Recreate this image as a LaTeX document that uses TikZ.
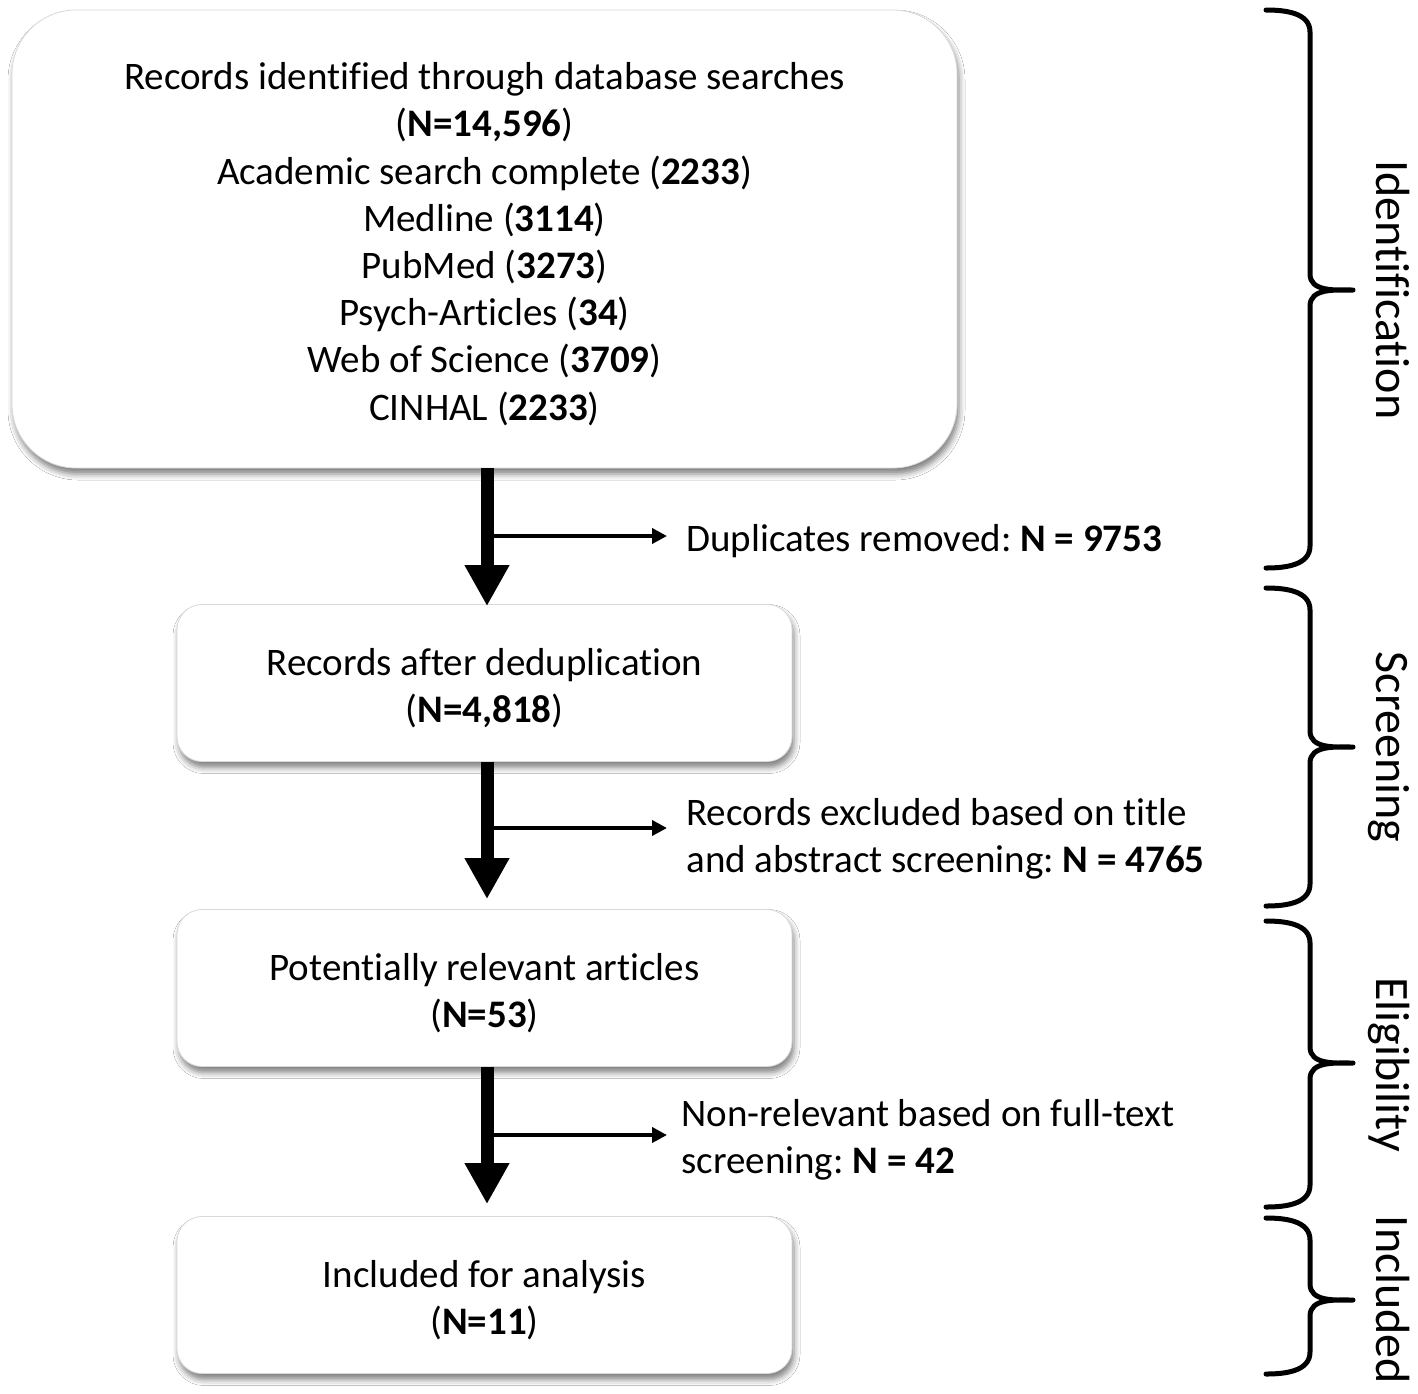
\documentclass[tikz,border=0pt]{standalone}
\usepackage{fontspec}
\setmainfont{Carlito}[Ligatures=NoCommon]
\frenchspacing
\usetikzlibrary{arrows.meta,shadows.blur}
\newcommand\topgap{\rule{0pt}{18.5pt}}
\newcommand\phasebrace[3]{%
  \draw[phase] (1266,#1) to[out=0,in=90] (1310,#1+22) -- (1310,#3-16)
    to[out=-90,in=180] (1353,#3) to[out=180,in=90] (1310,#3+16)
    -- (1310,#2-22) to[out=-90,in=0] (1266,#2);}
\begin{document}
\begin{tikzpicture}[x=0.5pt,y=-0.5pt,
  flowbox/.style={draw=black!15, line width=0.4pt, fill=white, align=center, inner sep=0pt,
    font=\fontsize{19.5}{23.6}\selectfont,
    blur shadow={shadow xshift=1pt, shadow yshift=-3pt, shadow blur radius=3pt, shadow opacity=50}},
  smallbox/.style={flowbox, rounded corners=12.5pt, minimum width=307.5pt, minimum height=78.5pt},
  note/.style={anchor=west, align=left, inner sep=0pt, font=\fontsize{19.5}{23.6}\selectfont},
  mainarrow/.style={line width=6.5pt, -{Triangle[width=21pt,length=20.5pt]}},
  sidearrow/.style={line width=2pt, -{Triangle[width=7.5pt,length=7.5pt]}, shorten >=9.5pt},
  phase/.style={line width=2.5pt, line join=round, line cap=round},
  phaselabel/.style={rotate=-90, anchor=base, inner sep=0pt, font=\fontsize{24}{28}\selectfont}]
\path[use as bounding box, fill=white] (0,0) rectangle (1418,1393);

\node[flowbox, rounded corners=32pt, minimum width=472.5pt, minimum height=229pt] (rec) at (484.5,239)
  {\topgap Records identified through database searches\\(\textbf{N=14,596})\\Academic search complete (\textbf{2233})\\Medline (\textbf{3114})\\PubMed (\textbf{3273})\\Psych-Articles (\textbf{34})\\Web of Science (\textbf{3709})\\CINHAL (\textbf{2233})};
\node[smallbox] (dedup) at (484.5,683) {\topgap Records after deduplication\\(\textbf{N=4,818})};
\node[smallbox] (pot) at (484.5,988) {\topgap Potentially relevant articles\\(\textbf{N=53})};
\node[smallbox] (inc) at (484.5,1295) {\topgap Included for analysis\\(\textbf{N=11})};

\draw[mainarrow] ([xshift=1.25pt]rec.south) -- ([xshift=1.25pt,yshift=-1pt]dedup.north);
\draw[mainarrow, shorten >=5pt] ([xshift=1.25pt]dedup.south) -- ([xshift=1.25pt]pot.north);
\draw[mainarrow, shorten >=6pt] ([xshift=1.25pt]pot.south) -- ([xshift=1.25pt]inc.north);

\coordinate (j1) at (487,536);
\coordinate (j2) at (487,828);
\coordinate (j3) at (487,1135);
\node[note] (dup) at (686,541) {Duplicates removed: \textbf{N = 9753}};
\node[note] (excl) at (686,838.5) {Records excluded based on title\\and abstract screening: \textbf{N = 4765}};
\node[note] (nonrel) at (681,1140) {Non-relevant based on full-text\\screening: \textbf{N = 42}};
\draw[sidearrow] (j1) -- (j1 -| dup.west);
\draw[sidearrow] (j2) -- (j2 -| excl.west);
\draw[sidearrow, shorten >=7pt] (j3) -- (j3 -| nonrel.west);

\phasebrace{10}{568}{290}
\phasebrace{588}{906}{747}
\phasebrace{921}{1207}{1063}
\phasebrace{1218}{1374}{1300}
\node[phaselabel] (l1) at (1376,290) {Identification};
\node[phaselabel] (l2) at (1376,747) {Screening};
\node[phaselabel] (l3) at (1376,1065) {Eligibility};
\node[phaselabel] (l4) at (1376,1300) {Included};
\end{tikzpicture}
\end{document}
